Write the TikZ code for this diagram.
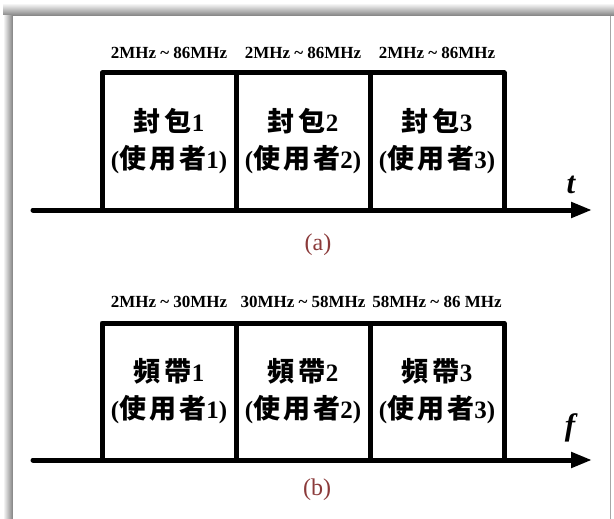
\documentclass[tikz,border=0pt]{standalone}
\usepackage{fontspec}
\setmainfont{Liberation Serif}
\newfontfamily\cjk{Noto Sans CJK TC}
\usetikzlibrary{arrows.meta}
\definecolor{capred}{RGB}{139,58,58}
\newcommand\ck[1]{{\cjk\bfseries\fontsize{27}{37}\selectfont #1}}
\newcommand\usr[1]{(\ck{使}\hspace{3pt}\ck{用}\hspace{3pt}\ck{者}#1)}
\begin{document}
\begin{tikzpicture}[x=1pt,y=-1pt,
  cell/.style={draw, line width=5pt, line join=round, minimum width=134pt,
    minimum height=137pt, inner sep=0pt, align=center,
    font=\fontsize{25}{37}\selectfont\bfseries},
  freq/.style={font=\fontsize{17}{19}\selectfont\bfseries, inner sep=0pt, anchor=base},
  axisline/.style={line width=5pt, line cap=round, -{Triangle[length=21pt,width=15pt]}},
  axlab/.style={font=\fontsize{31}{31}\selectfont\bfseries\itshape, inner sep=0pt},
  captxt/.style={font=\fontsize{24}{24}\selectfont, text=capred, inner sep=0pt}]
\useasboundingbox (0,0) rectangle (614,519);
\fill[white] (0,0) rectangle (614,519);
% shadow frame
\shade[top color=white, bottom color=black!50] (3,3) rectangle (614,16);
\shade[left color=white, right color=black!50] (3,16) rectangle (13,519);
\fill[white] (13,16) rectangle (610,519);
\draw[black!35, line width=1pt] (610.5,16) -- (610.5,519);
% panel (a)
\node[cell] (a1) at (169,141.5) {\ck{封}\hspace{4pt}\ck{包}1\\\usr{1}};
\node[cell] (a2) at (303,141.5) {\ck{封}\hspace{4pt}\ck{包}2\\\usr{2}};
\node[cell] (a3) at (437,141.5) {\ck{封}\hspace{4pt}\ck{包}3\\\usr{3}};
\node[freq] (fa1) at ([yshift=12pt]a1.north) {2MHz \textasciitilde{} 86MHz};
\node[freq] (fa2) at ([yshift=12pt]a2.north) {2MHz \textasciitilde{} 86MHz};
\node[freq] (fa3) at ([yshift=12pt]a3.north) {2MHz \textasciitilde{} 86MHz};
\coordinate (ta0) at (33,210);
\coordinate (ta1) at (592,210);
\draw[axisline] (ta0) -- (ta1);
\node[axlab] (tl) at (571,185) {t};
\node[captxt] (ca) at (318,245) {(a)};
% panel (b)
\node[cell] (b1) at (169,391.5) {\ck{頻}\hspace{4pt}\ck{帶}1\\\usr{1}};
\node[cell] (b2) at (303,391.5) {\ck{頻}\hspace{4pt}\ck{帶}2\\\usr{2}};
\node[cell] (b3) at (437,391.5) {\ck{頻}\hspace{4pt}\ck{帶}3\\\usr{3}};
\node[freq] (fb1) at ([yshift=13pt]b1.north) {2MHz \textasciitilde{} 30MHz};
\node[freq] (fb2) at ([yshift=13pt]b2.north) {30MHz \textasciitilde{} 58MHz};
\node[freq] (fb3) at ([yshift=13pt]b3.north) {58MHz \textasciitilde{} 86 MHz};
\coordinate (tb0) at (33,460);
\coordinate (tb1) at (592,460);
\draw[axisline] (tb0) -- (tb1);
\node[axlab] (fl) at (570,428) {f};
\node[captxt] (cb) at (317,490) {(b)};
\end{tikzpicture}
\end{document}
